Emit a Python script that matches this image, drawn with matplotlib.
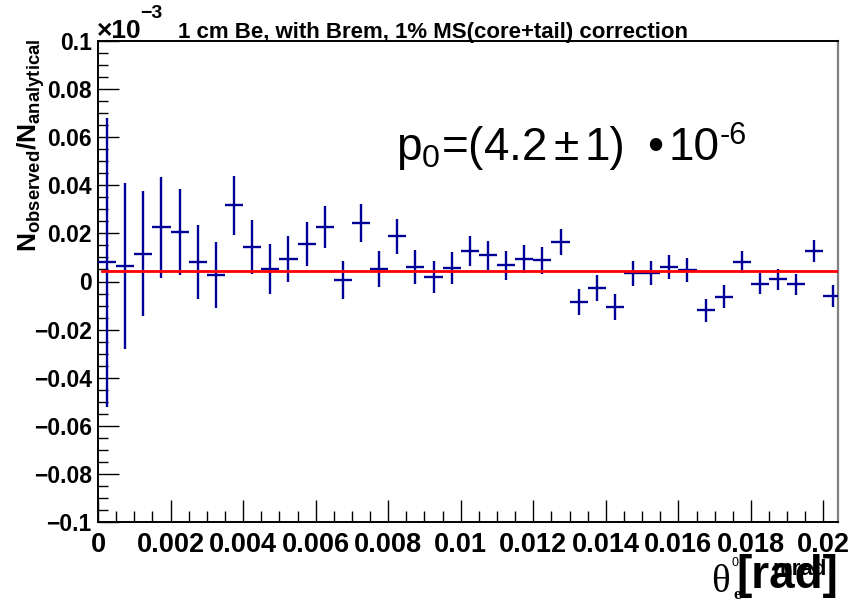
import numpy as np
import matplotlib
matplotlib.use("Agg")
import matplotlib.pyplot as plt
from matplotlib.ticker import FixedLocator, MultipleLocator

plt.rcParams['font.family'] = ['Liberation Sans', 'DejaVu Sans']
plt.rcParams['mathtext.fontset'] = 'custom'
plt.rcParams['mathtext.rm'] = 'Liberation Sans'
plt.rcParams['mathtext.bf'] = 'Liberation Sans:bold'
plt.rcParams['mathtext.it'] = 'Liberation Sans:italic'

# histogram binning (theta_e in rad)
bin_width = 0.0005
n_bins = 41
theta = np.arange(n_bins) * bin_width + bin_width / 2

# ratio values as shown on the axis (x 10^-3)
ratio = [0.0080, 0.0064, 0.0116, 0.0225, 0.0205, 0.0081, 0.0027, 0.0317, 0.0145, 0.0052,
         0.0092, 0.0156, 0.0227, 0.0006, 0.0243, 0.0053, 0.0188, 0.0060, 0.0019, 0.0057,
         0.0127, 0.0109, 0.0067, 0.0094, 0.0088, 0.0164, -0.0085, -0.0027, -0.0107, 0.0034,
         0.0037, 0.0059, 0.0047, -0.0119, -0.0063, 0.0080, -0.0009, 0.0009, -0.0012, 0.0127,
         -0.0060]
ratio_err = [0.060, 0.0345, 0.026, 0.021, 0.018, 0.0153, 0.0137, 0.0123, 0.0112, 0.0104,
             0.0096, 0.0090, 0.0086, 0.0080, 0.0078, 0.0075, 0.0072, 0.0070, 0.0067, 0.0066,
             0.0061, 0.0060, 0.0059, 0.0057, 0.0057, 0.0055, 0.0055, 0.0053, 0.0053, 0.0052,
             0.0050, 0.0050, 0.0049, 0.0048, 0.0047, 0.0046, 0.0045, 0.0045, 0.0045, 0.0044,
             0.0044]

# constant fit p0 = 4.2e-6 -> 0.0042 in axis units
fit_p0 = 0.0042
fit_range = [0.0001, 0.0204]

x_ticks = [0, 0.002, 0.004, 0.006, 0.008, 0.01, 0.012, 0.014, 0.016, 0.018, 0.02]
x_labels = ['0', '0.002', '0.004', '0.006', '0.008', '0.01', '0.012', '0.014', '0.016', '0.018', '0.02']
y_ticks = [-0.1, -0.08, -0.06, -0.04, -0.02, 0, 0.02, 0.04, 0.06, 0.08, 0.1]
y_labels = ['\u22120.1', '\u22120.08', '\u22120.06', '\u22120.04', '\u22120.02', '0',
            '0.02', '0.04', '0.06', '0.08', '0.1']

W, H = 848, 601
fig = plt.figure(figsize=(W / 100, H / 100), dpi=100)
ax = fig.add_axes([98 / W, 1 - 522 / H, 740 / W, 481 / H])

ax.errorbar(theta, ratio, xerr=bin_width / 2, yerr=ratio_err, fmt='none',
            ecolor='#000099', elinewidth=1.7, capsize=0, zorder=3)
ax.plot(fit_range, [fit_p0, fit_p0], color='#ff0000', lw=2.0, zorder=4)

ax.set_xlim(0, 0.0204)
ax.set_ylim(-0.1, 0.1)

ax.xaxis.set_major_locator(FixedLocator(x_ticks))
ax.set_xticklabels(x_labels, fontsize=19.5, fontweight='bold')
ax.xaxis.set_minor_locator(MultipleLocator(0.0005))
ax.yaxis.set_major_locator(FixedLocator(y_ticks))
ax.set_yticklabels(y_labels, fontsize=16.5, fontweight='bold')
ax.yaxis.set_minor_locator(MultipleLocator(0.005))

ax.tick_params(axis='both', which='both', direction='in', top=False, right=False, width=1.0)
ax.tick_params(axis='x', which='major', length=16, pad=7)
ax.tick_params(axis='x', which='minor', length=8)
ax.tick_params(axis='y', which='major', length=15, pad=4.5)
ax.tick_params(axis='y', which='minor', length=7.5)

for side in ['left', 'bottom', 'top']:
    ax.spines[side].set_linewidth(1.4)
ax.spines['right'].set_color('#808080')
ax.spines['right'].set_linewidth(1.6)

# title and exponent
fig.text(97 / W, 1 - 38 / H, '\u00d710', fontsize=19, fontweight='bold', ha='left', va='baseline')
fig.text(140 / W, 1 - 18 / H, '\u22123', fontsize=14, fontweight='bold', ha='left', va='baseline')
fig.text(178 / W, 1 - 38 / H, '1 cm Be, with Brem, 1% MS(core+tail) correction',
         fontsize=16, fontweight='bold', ha='left', va='baseline')

# fit result, placed piece by piece like the ROOT latex
fig.text(396 / W, 1 - 160 / H, r'p$_0$=(4.2', fontsize=33, ha='left', va='baseline')
fig.text(566 / W, 1 - 160 / H, '\u00b1', fontsize=33, ha='center', va='baseline')
fig.text(584 / W, 1 - 160 / H, '1)', fontsize=33, ha='left', va='baseline')
fig.text(655 / W, 1 - 160 / H, '\u2022', fontsize=33, ha='center', va='baseline')
fig.text(668 / W, 1 - 160 / H, '10', fontsize=33, ha='left', va='baseline')
fig.text(720 / W, 1 - 144 / H, '-6', fontsize=22, ha='left', va='baseline')

# y axis title
fig.text(31 / W, 1 - 39 / H, r'$\mathbf{N_{observed}/N_{analytical}}$', fontsize=19,
         rotation=90, ha='center', va='top')

# x axis title
fig.text(711 / W, 1 - 592 / H, '\u03b8', fontsize=28, family='Liberation Serif',
         ha='left', va='baseline')
fig.text(733 / W, 1 - 599 / H, 'e', fontsize=12, family='Liberation Serif', fontweight='bold',
         ha='left', va='baseline')
fig.text(731 / W, 1 - 566 / H, '0', fontsize=9, ha='left', va='baseline')
fig.text(773 / W, 1 - 575 / H, 'mrad', fontsize=16, fontweight='bold', ha='left', va='baseline')
fig.text(838 / W, 1 - 588 / H, '[rad]', fontsize=33, fontweight='bold', ha='right', va='baseline')

fig.savefig('out.png', dpi=100)
